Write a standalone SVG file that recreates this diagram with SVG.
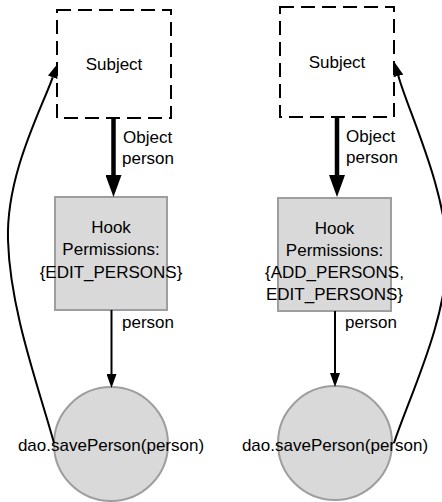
<svg xmlns="http://www.w3.org/2000/svg" width="442" height="502" viewBox="0 0 442 502">
<defs>
<style>
text{font-family:"Liberation Sans",Arial,sans-serif;font-size:17px;fill:#000}
.c{text-anchor:middle}
.subj{fill:#fff;stroke:#000;stroke-width:2;stroke-dasharray:14,7}
.hook{fill:#d9d9d9;stroke:#9e9e9e;stroke-width:2}
.thick{fill:none;stroke:#000;stroke-width:4.5}
.thin{fill:none;stroke:#000;stroke-width:2}
</style>
<marker id="ah-thick" markerUnits="userSpaceOnUse" viewBox="0 0 22 16" markerWidth="22" markerHeight="16" refX="0" refY="8" orient="auto"><path d="M0,0 L22,8 L0,16 z" fill="#000"/></marker>
<marker id="ah-thin" markerUnits="userSpaceOnUse" viewBox="0 0 14 10" markerWidth="14" markerHeight="10" refX="0" refY="5" orient="auto"><path d="M0,0 L14,5 L0,10 z" fill="#000"/></marker>
</defs>
<g id="subject-left"><rect class="subj" x="57" y="10" width="114" height="108"/><text class="c" x="114" y="70">Subject</text></g>
<g id="hook-left"><rect class="hook" x="55" y="197" width="112" height="113"/><text class="c" x="111" y="232.5">Hook</text><text class="c" x="111" y="255">Permissions:</text><text class="c" x="111" y="277.5">{EDIT_PERSONS}</text></g>
<g id="save-left"><circle class="hook" cx="111" cy="444" r="57"/><text class="c" x="111" y="451">dao.savePerson(person)</text></g>
<g id="subject-right"><rect class="subj" x="280" y="7" width="114" height="110"/><text class="c" x="337" y="68">Subject</text></g>
<g id="hook-right"><rect class="hook" x="278" y="198" width="113" height="113"/><text class="c" x="334.5" y="233.5">Hook</text><text class="c" x="334.5" y="256">Permissions:</text><text class="c" x="334.5" y="278">{ADD_PERSONS,</text><text class="c" x="334.5" y="300">EDIT_PERSONS}</text></g>
<g id="save-right"><circle class="hook" cx="335" cy="443" r="57"/><text class="c" x="335" y="451">dao.savePerson(person)</text></g>
<g id="connectors">
<path class="thick" d="M113.5,118 L113.5,175" marker-end="url(#ah-thick)"/>
<text x="123" y="143">Object</text><text x="122" y="164">person</text>
<path class="thin" d="M111.5,310 L111.5,374" marker-end="url(#ah-thin)"/>
<text x="122" y="328">person</text>
<path class="thin" d="M54,443 C38,385 10,310 8,240 C6,175 41,110 52.7,77.3" marker-end="url(#ah-thin)"/>
<path class="thick" d="M337,117 L337,175" marker-end="url(#ah-thick)"/>
<text x="346" y="142">Object</text><text x="346" y="163">person</text>
<path class="thin" d="M335,311 L335,373" marker-end="url(#ah-thin)"/>
<text x="345" y="328">person</text>
<path class="thin" d="M394,443 C410,395 447,320 447,255 C447,190 407.5,109.7 398.4,75.9" marker-end="url(#ah-thin)"/>
</g>
</svg>
